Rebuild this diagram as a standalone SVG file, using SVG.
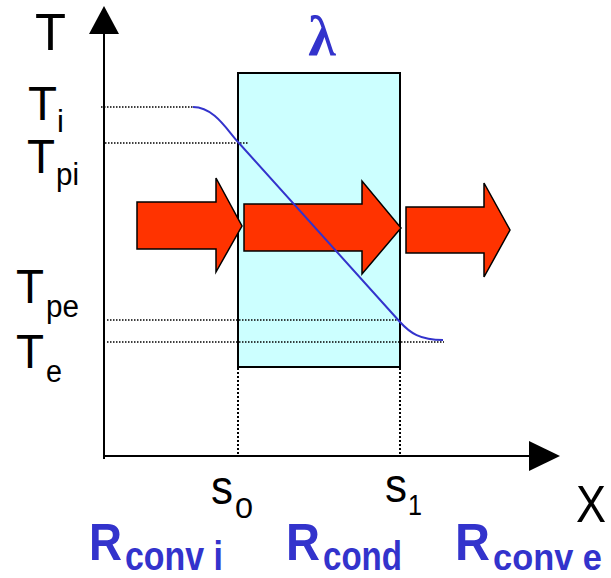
<svg xmlns="http://www.w3.org/2000/svg" width="611" height="578" viewBox="0 0 611 578">
<style>
.lbl{font-family:"Liberation Sans",Arial,sans-serif;fill:#000}
.rl{font-family:"Liberation Sans",Arial,sans-serif;font-weight:bold;fill:#3333CC}
.dot{stroke:#000;stroke-width:1.5;stroke-dasharray:1.5 1.5;fill:none}
.vdot{stroke:#000;stroke-width:2;stroke-dasharray:2 2;fill:none}
.arr{fill:#FF3300;stroke:#000;stroke-width:1.5;stroke-linejoin:miter}
.axis{stroke:#000;stroke-width:2;fill:none}
</style>
<rect width="611" height="578" fill="#fff"/>
<g id="wall">
<rect x="238" y="73" width="162" height="294" fill="#CCFFFF" stroke="#000" stroke-width="2"/>
</g>
<g id="axes">
<line class="axis" x1="104" y1="30" x2="104" y2="459"/>
<polygon points="104,6 89,34 119,34" fill="#000"/>
<line class="axis" x1="104" y1="456" x2="532" y2="456"/>
<polygon points="560,456 529,441 529,471" fill="#000"/>
</g>
<g id="guides">
<line class="dot" x1="101" y1="107" x2="193" y2="107"/>
<line class="dot" x1="105" y1="143" x2="248" y2="143"/>
<line class="dot" x1="107" y1="320" x2="400" y2="320"/>
<line class="dot" x1="107" y1="342" x2="444" y2="342"/>
<line class="vdot" x1="238" y1="368" x2="238" y2="455"/>
<line class="vdot" x1="400" y1="368" x2="400" y2="455"/>
</g>
<g id="flux">
<polygon class="arr" points="137,202 216,202 216,178 242,226 216,272 216,249 137,249"/>
<polygon class="arr" points="244,204 362,204 362,181 401,228 362,274 362,251 244,251"/>
<polygon class="arr" points="406,207 484,207 484,183 510,230 484,277 484,253 406,253"/>
</g>
<g id="profile">
<path d="M193,107 C214,107 227,130 238,142 L400,322 C410,333 420,340 443,340" fill="none" stroke="#3333CC" stroke-width="2"/>
</g>
<g id="labels">
<text class="lbl" x="35" y="50" font-size="52" textLength="31" lengthAdjust="spacingAndGlyphs">T</text>
<text class="lbl" x="28" y="120" font-size="48" textLength="29" lengthAdjust="spacingAndGlyphs">T</text>
<text class="lbl" x="57" y="132" font-size="31">i</text>
<text class="lbl" x="27" y="173" font-size="48" textLength="28" lengthAdjust="spacingAndGlyphs">T</text>
<text class="lbl" x="56" y="185" font-size="31" textLength="23" lengthAdjust="spacingAndGlyphs">pi</text>
<text class="lbl" x="16" y="303" font-size="48" textLength="28" lengthAdjust="spacingAndGlyphs">T</text>
<text class="lbl" x="46" y="317" font-size="31" textLength="33" lengthAdjust="spacingAndGlyphs">pe</text>
<text class="lbl" x="16" y="368" font-size="48" textLength="28" lengthAdjust="spacingAndGlyphs">T</text>
<text class="lbl" x="46" y="382" font-size="31" textLength="16" lengthAdjust="spacingAndGlyphs">e</text>
<text x="322" y="55" font-family="'Liberation Serif','Times New Roman',serif" font-size="56" font-weight="bold" fill="#3333CC" text-anchor="middle">λ</text>
<text class="lbl" x="211" y="504" font-size="48" textLength="22" lengthAdjust="spacingAndGlyphs">s</text>
<text class="lbl" x="235" y="518" font-size="30" textLength="18" lengthAdjust="spacingAndGlyphs">0</text>
<text class="lbl" x="385" y="502" font-size="48" textLength="22" lengthAdjust="spacingAndGlyphs">s</text>
<text class="lbl" x="408" y="515" font-size="30" textLength="14" lengthAdjust="spacingAndGlyphs">1</text>
<text class="lbl" x="576" y="522" font-size="52" textLength="30" lengthAdjust="spacingAndGlyphs">X</text>
<text class="rl" x="89" y="560" font-size="51" textLength="33" lengthAdjust="spacingAndGlyphs">R</text>
<text class="rl" x="125" y="570" font-size="40" textLength="98" lengthAdjust="spacingAndGlyphs">conv i</text>
<text class="rl" x="286" y="560" font-size="51" textLength="34" lengthAdjust="spacingAndGlyphs">R</text>
<text class="rl" x="323" y="570" font-size="40" textLength="79" lengthAdjust="spacingAndGlyphs">cond</text>
<text class="rl" x="455" y="560" font-size="51" textLength="35" lengthAdjust="spacingAndGlyphs">R</text>
<text class="rl" x="493" y="570" font-size="37" textLength="109" lengthAdjust="spacingAndGlyphs">conv e</text>
</g>
</svg>
